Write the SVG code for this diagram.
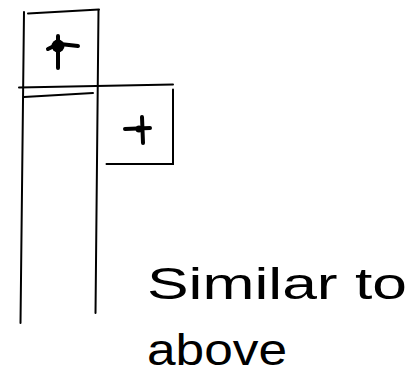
<svg xmlns="http://www.w3.org/2000/svg" width="413" height="383" viewBox="0 0 413 383">
<style>
.ln{fill:none;stroke:#000;stroke-width:2;stroke-linecap:round}
.mk{fill:none;stroke:#000;stroke-width:4;stroke-linecap:round}
.tx{font-family:"Liberation Sans",sans-serif;font-size:44px;fill:#000}
</style>
<rect width="413" height="383" fill="#fff"/>
<g id="column">
<path class="ln" d="M24 12 L20.5 323"/>
<path class="ln" d="M98.5 10 L95.5 313"/>
<path class="ln" d="M19 87.5 L173 84.5"/>
<path class="ln" d="M24 97 L93 93"/>
</g>
<g id="top-box">
<path class="ln" d="M28 13.5 L99 9.5"/>
<circle cx="58" cy="46" r="6.5" fill="#000"/>
<path class="mk" d="M58 36 L58 68 M48 49 L54 46 M60 44 L78 46"/>
</g>
<g id="right-box">
<path class="ln" d="M173 89.5 L173 164 L106.5 164"/>
<path class="mk" d="M142 117 L143 143 M125 129 L150 128"/>
<circle cx="139" cy="129" r="3.5" fill="#000"/>
</g>
<g id="note">
<text class="tx" x="147" y="299" textLength="260" lengthAdjust="spacingAndGlyphs">Similar to</text>
<text class="tx" x="147" y="365" textLength="140" lengthAdjust="spacingAndGlyphs">above</text>
</g>
</svg>
